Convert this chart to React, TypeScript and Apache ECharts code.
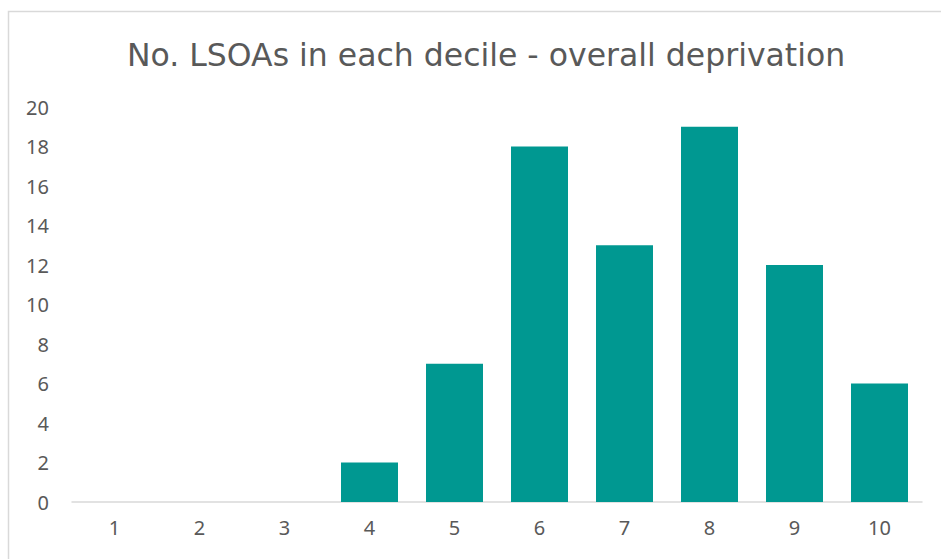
import React, { useEffect, useRef } from "react";
import * as echarts from "echarts";

const categories = ["1", "2", "3", "4", "5", "6", "7", "8", "9", "10"];
const counts = [0, 0, 0, 2, 7, 18, 13, 19, 12, 6];
const titleText = "No. LSOAs in each decile - overall deprivation";

export default function App() {
  const ref = useRef<HTMLDivElement>(null);
  useEffect(() => {
    if (!ref.current) return;
    const chart = echarts.init(ref.current, null, { renderer: "svg" });
    chart.setOption({
      animation: false,
      backgroundColor: "#ffffff",
      graphic: [
        {
          type: "rect",
          shape: { x: 8.5, y: 11.5, width: 960, height: 600 },
          style: { fill: "none", stroke: "#d9d9d9", lineWidth: 1.5 },
          silent: true,
        },
      ],
      title: {
        text: titleText,
        left: 122,
        top: 34,
        textStyle: {
          fontFamily: "DejaVu Sans",
          fontSize: 31.5,
          fontWeight: "normal",
          color: "#595959",
        },
      },
      grid: { left: 72, right: 19, top: 107, bottom: 57 },
      xAxis: {
        type: "category",
        data: categories,
        axisLine: { lineStyle: { color: "#d9d9d9", width: 1.5 } },
        axisTick: { show: false },
        axisLabel: {
          fontFamily: "Noto Sans",
          fontSize: 20,
          color: "#595959",
          margin: 15,
        },
      },
      yAxis: {
        type: "value",
        min: 0,
        max: 20,
        interval: 2,
        splitLine: { show: false },
        axisLine: { show: false },
        axisTick: { show: false },
        axisLabel: {
          fontFamily: "Noto Sans",
          fontSize: 20,
          color: "#595959",
          margin: 23,
        },
      },
      series: [
        {
          type: "bar",
          data: counts,
          barWidth: 57,
          itemStyle: { color: "#009891" },
        },
      ],
    });
    return () => chart.dispose();
  }, []);
  return (
    <div
      ref={ref}
      style={{ position: "fixed", left: 0, top: 0, width: 941, height: 559 }}
    />
  );
}
